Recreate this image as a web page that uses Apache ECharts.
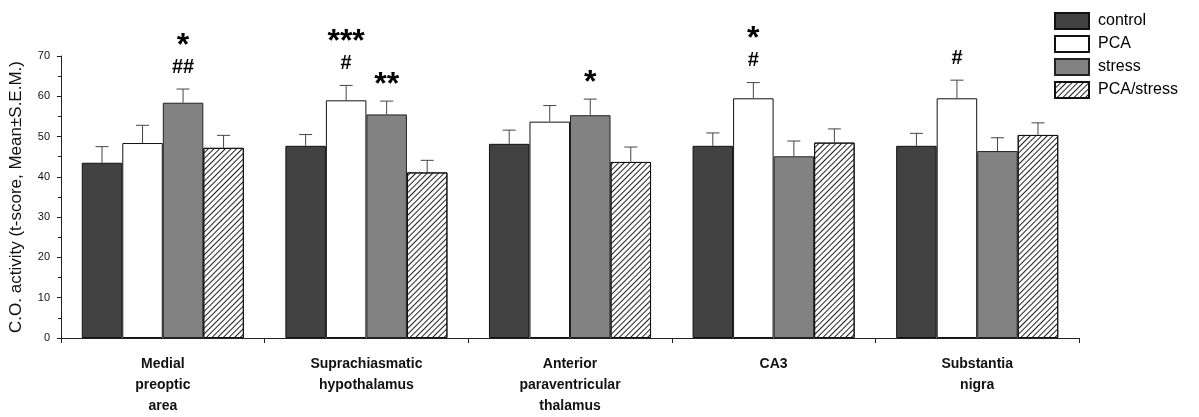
<!DOCTYPE html>
<html>
<head>
<meta charset="utf-8">
<script src="https://cdn.jsdelivr.net/npm/echarts@6/dist/echarts.min.js"></script>
<style>html,body{margin:0;padding:0;background:#fff}#c{width:1199px;height:417px}</style>
</head>
<body>
<div id="c"></div>
<script>
const categories = ['Medial\npreoptic\narea', 'Suprachiasmatic\nhypothalamus', 'Anterior\nparaventricular\nthalamus', 'CA3', 'Substantia\nnigra'];
const seriesNames = ['control', 'PCA', 'stress', 'PCA/stress'];
const control = [43.5, 47.7, 48.2, 47.7, 47.7];
const controlErr = [4.0, 2.8, 3.4, 3.2, 3.1];
const pca = [48.4, 59.0, 53.7, 59.5, 59.5];
const pcaErr = [4.4, 3.7, 4.0, 3.9, 4.5];
const stress = [58.4, 55.5, 55.3, 45.1, 46.4];
const stressErr = [3.4, 3.3, 4.0, 3.8, 3.3];
const pcaStress = [47.2, 41.1, 43.7, 48.5, 50.4];
const pcaStressErr = [3.1, 3.0, 3.7, 3.4, 3.0];
const controlStars = ['', '', '', '', ''];
const controlHashes = ['', '', '', '', ''];
const pcaStars = ['', '***', '', '*', ''];
const pcaHashes = ['', '#', '', '#', '#'];
const stressStars = ['*', '**', '*', '', ''];
const stressHashes = ['##', '', '', '', ''];
const pcaStressStars = ['', '', '', '', ''];
const pcaStressHashes = ['', '', '', '', ''];
const yTicks = [0, 10, 20, 30, 40, 50, 60, 70];

const FONT = '"Liberation Sans", Arial, Helvetica, sans-serif';
const values = [control, pca, stress, pcaStress];
const errs = [controlErr, pcaErr, stressErr, pcaStressErr];
const stars = [controlStars, pcaStars, stressStars, pcaStressStars];
const hashes = [controlHashes, pcaHashes, stressHashes, pcaStressHashes];
const GAP = 0.204;
const styles = [
  {color: '#424242', borderColor: '#111', borderWidth: 1},
  {color: '#ffffff', borderColor: '#111', borderWidth: 1},
  {color: '#828282', borderColor: '#222', borderWidth: 1},
  {color: '#ffffff', borderColor: '#111', borderWidth: 1,
   decal: {symbol: 'rect', symbolSize: 1, color: '#222', dashArrayX: [1, 0], dashArrayY: [0.9, 2.6], rotation: -Math.PI / 4}}
];

const series = [];
seriesNames.forEach((name, s) => {
  series.push({
    name: name, type: 'bar', data: values[s], barGap: '0%', barCategoryGap: (GAP * 100) + '%',
    itemStyle: styles[s], emphasis: {disabled: true}, z: 2
  });
});
seriesNames.forEach((name, s) => {
  series.push({
    name: 'err_' + name, type: 'custom', silent: true, z: 5,
    data: values[s].map((v, i) => [i, v]),
    renderItem: function (params, api) {
      const i = params.dataIndex;
      const v = values[s][i], e = errs[s][i];
      const base = api.coord([i, v]);
      const top = api.coord([i, v + e]);
      const band = api.size([1, 0])[0];
      const bw = band * (1 - GAP) / 4;
      const x = base[0] + (s - 1.5) * bw;
      const children = [
        {type: 'line', shape: {x1: x, y1: base[1], x2: x, y2: top[1]}, style: {stroke: '#444', lineWidth: 1}},
        {type: 'line', shape: {x1: x - 6.5, y1: top[1], x2: x + 6.5, y2: top[1]}, style: {stroke: '#444', lineWidth: 1}}
      ];
      let y = top[1];
      const h = hashes[s][i], st = stars[s][i];
      if (h) {
        children.push({type: 'text', style: {text: h, x: x, y: y - 22, align: 'center', verticalAlign: 'middle', font: 'bold 20px ' + FONT, fill: '#000'}});
        y = y - 22;
        if (st) children.push({type: 'text', style: {text: st, x: x, y: y - 21, align: 'center', verticalAlign: 'middle', font: 'bold 32px ' + FONT, fill: '#000'}});
      } else if (st) {
        children.push({type: 'text', style: {text: st, x: x, y: y - 16, align: 'center', verticalAlign: 'middle', font: 'bold 32px ' + FONT, fill: '#000'}});
      }
      return {type: 'group', children: children};
    }
  });
});

const chart = echarts.init(document.getElementById('c'), null, {renderer: 'canvas'});
chart.setOption({
  animation: false,
  backgroundColor: '#fff',
  textStyle: {fontFamily: FONT},
  grid: {left: 61, right: 120, top: 56, bottom: 78, containLabel: false},
  legend: {
    data: seriesNames, orient: 'vertical', left: 1054, top: 12, padding: 0,
    itemWidth: 34, itemHeight: 16, itemGap: 5, icon: 'rect',
    textStyle: {fontSize: 16, color: '#000', fontFamily: FONT, padding: [0, 0, 0, 4]},
    selectedMode: false
  },
  xAxis: {
    type: 'category', data: categories,
    axisLine: {lineStyle: {color: '#222', width: 1}},
    axisTick: {show: true, length: 5, lineStyle: {color: '#222'}},
    axisLabel: {fontSize: 14, fontWeight: 'bold', color: '#111', lineHeight: 21, margin: 16, fontFamily: FONT, interval: 0}
  },
  yAxis: {
    type: 'value', min: yTicks[0], max: yTicks[yTicks.length - 1], interval: 10,
    name: 'C.O. activity (t-score, Mean\u00b1S.E.M.)', nameLocation: 'middle', nameGap: 36,
    nameTextStyle: {fontSize: 17, color: '#111', fontFamily: FONT},
    axisLine: {show: true, lineStyle: {color: '#222', width: 1}},
    axisTick: {show: true, length: 4, lineStyle: {color: '#222'}},
    minorTick: {show: true, splitNumber: 2, length: 3, lineStyle: {color: '#222'}},
    splitLine: {show: false},
    axisLabel: {fontSize: 11, color: '#111', margin: 11, fontFamily: FONT}
  },
  series: series
});
</script>
</body>
</html>
